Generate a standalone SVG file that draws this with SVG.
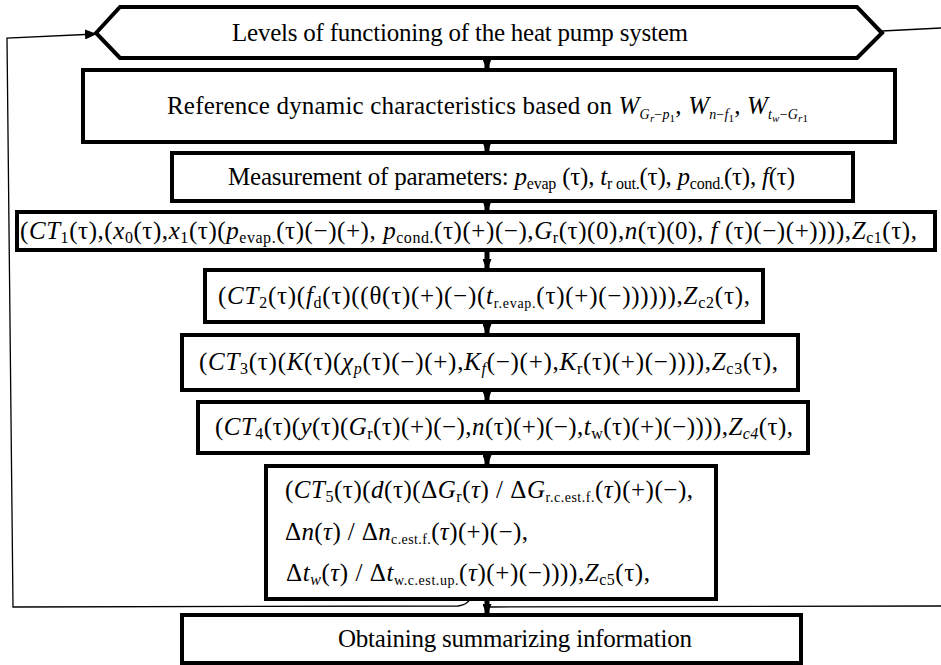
<svg xmlns="http://www.w3.org/2000/svg" width="941" height="665" viewBox="0 0 941 665">
<style>
.box{fill:#fff;stroke:#000;stroke-width:4}
.t{font-family:"Liberation Serif","Times New Roman",serif;font-size:25px;fill:#000}
.i{font-style:italic}
.s{font-size:16px}
.s2{font-size:14px}
.ss{font-size:11px}
.arr{stroke:#000;stroke-width:5;fill:none}
.thin{stroke:#000;stroke-width:1.3;fill:none}
</style>
<defs>
<marker id="ah" markerUnits="userSpaceOnUse" markerWidth="12" markerHeight="9" refX="11" refY="4.5" orient="auto">
<path d="M0,0 L12,4.5 L0,9 z" fill="#000"/>
</marker>
<marker id="ahs" markerUnits="userSpaceOnUse" markerWidth="12" markerHeight="10" refX="11" refY="5" orient="auto">
<path d="M0,0 L12,5 L0,10 z" fill="#000"/>
</marker>
</defs>
<g id="connectors">
<line class="arr" x1="487" y1="58" x2="487" y2="70" marker-end="url(#ah)"/>
<line class="arr" x1="487" y1="142" x2="487" y2="153" marker-end="url(#ah)"/>
<line class="arr" x1="487" y1="201" x2="487" y2="212" marker-end="url(#ah)"/>
<line class="arr" x1="487" y1="250" x2="487" y2="270" marker-end="url(#ah)"/>
<line class="arr" x1="487" y1="322" x2="487" y2="335" marker-end="url(#ah)"/>
<line class="arr" x1="487" y1="390" x2="487" y2="402" marker-end="url(#ah)"/>
<line class="arr" x1="487" y1="453" x2="487" y2="466" marker-end="url(#ah)"/>
<line class="arr" x1="487" y1="599" x2="487" y2="615" marker-end="url(#ah)"/>
<path class="thin" d="M470,599 Q467,605 458,606 L13,607 L7,38 L96,34" marker-end="url(#ahs)"/>
<path class="thin" d="M882,31 L941,28"/>
<path class="thin" d="M490,607 L941,606"/>
</g>
<g id="n-levels">
<polygon class="box" points="96,33 120,7 857,7 882,33 857,58 120,58" stroke-width="3"/>
<text class="t" x="232" y="41" font-size="25.5" textLength="456" lengthAdjust="spacing">Levels of functioning of the heat pump system</text>
</g>
<g id="n-reference">
<rect class="box" x="83" y="70" width="812" height="72"/>
<text class="t" x="167" y="114" font-size="24.5" textLength="641" lengthAdjust="spacing">Reference dynamic characteristics based on <tspan class="i">W</tspan><tspan class="i s2" dy="5">G</tspan><tspan class="i ss" dy="3">r</tspan><tspan class="s2" dy="-3">−</tspan><tspan class="i s2">p</tspan><tspan class="ss" dy="3">1</tspan><tspan dy="-8">, </tspan><tspan class="i">W</tspan><tspan class="i s2" dy="5">n</tspan><tspan class="s2">−</tspan><tspan class="i s2">f</tspan><tspan class="ss" dy="3">1</tspan><tspan dy="-8">, </tspan><tspan class="i">W</tspan><tspan class="i s2" dy="5">t</tspan><tspan class="i ss" dy="3">w</tspan><tspan class="s2" dy="-3">−</tspan><tspan class="i s2">G</tspan><tspan class="i ss" dy="3">r</tspan><tspan class="ss">1</tspan></text>
</g>
<g id="n-measurement">
<rect class="box" x="172" y="153" width="681" height="48"/>
<text class="t" x="228" y="185" font-size="24" textLength="567" lengthAdjust="spacing">Measurement of parameters: <tspan class="i">p</tspan><tspan class="s" dy="4">evap</tspan><tspan dy="-4"> (τ), </tspan><tspan class="i">t</tspan><tspan class="s" dy="4">r out.</tspan><tspan dy="-4">(τ), </tspan><tspan class="i">p</tspan><tspan class="s" dy="4">cond.</tspan><tspan dy="-4">(τ), </tspan><tspan class="i">f</tspan>(τ)</text>
</g>
<g id="n-ct1">
<rect class="box" x="17" y="212" width="918" height="38"/>
<text class="t" x="20" y="239" textLength="897" lengthAdjust="spacing">(<tspan class="i">CT</tspan><tspan class="s" dy="4">1</tspan><tspan dy="-4">(τ),(</tspan><tspan class="i">x</tspan><tspan class="s" dy="4">0</tspan><tspan dy="-4">(τ),</tspan><tspan class="i">x</tspan><tspan class="s" dy="4">1</tspan><tspan dy="-4">(τ)(</tspan><tspan class="i">p</tspan><tspan class="s" dy="4">evap.</tspan><tspan dy="-4">(τ)(−)(+), </tspan><tspan class="i">p</tspan><tspan class="s" dy="4">cond.</tspan><tspan dy="-4">(τ)(+)(−),</tspan><tspan class="i">G</tspan><tspan class="s" dy="4">r</tspan><tspan dy="-4">(τ)(0),</tspan><tspan class="i">n</tspan>(τ)(0), <tspan class="i">f</tspan> (τ)(−)(+)))),<tspan class="i">Z</tspan><tspan class="s" dy="4">c1</tspan><tspan dy="-4">(τ),</tspan></text>
</g>
<g id="n-ct2">
<rect class="box" x="205" y="270" width="558" height="52"/>
<text class="t" x="218" y="304" textLength="532" lengthAdjust="spacing">(<tspan class="i">CT</tspan><tspan class="s" dy="4">2</tspan><tspan dy="-4">(τ)(</tspan><tspan class="i">f</tspan><tspan class="s" dy="4">d</tspan><tspan dy="-4">(τ)((θ(τ)(+)(−)(</tspan><tspan class="i">t</tspan><tspan class="s2" dy="4">r.evap.</tspan><tspan dy="-4">(τ)(+)(−)))))),</tspan><tspan class="i">Z</tspan><tspan class="s" dy="4">c2</tspan><tspan dy="-4">(τ),</tspan></text>
</g>
<g id="n-ct3">
<rect class="box" x="182" y="335" width="616" height="55"/>
<text class="t" x="199" y="370" textLength="579" lengthAdjust="spacing">(<tspan class="i">CT</tspan><tspan class="s" dy="4">3</tspan><tspan dy="-4">(τ)(</tspan><tspan class="i">K</tspan>(τ)(<tspan class="i">χ</tspan><tspan class="i s" dy="4">p</tspan><tspan dy="-4">(τ)(−)(+),</tspan><tspan class="i">K</tspan><tspan class="i s" dy="4">f</tspan><tspan dy="-4">(−)(+),</tspan><tspan class="i">K</tspan><tspan class="s" dy="4">r</tspan><tspan dy="-4">(τ)(+)(−)))),</tspan><tspan class="i">Z</tspan><tspan class="s" dy="4">c3</tspan><tspan dy="-4">(τ),</tspan></text>
</g>
<g id="n-ct4">
<rect class="box" x="198" y="402" width="610" height="51"/>
<text class="t" x="215" y="435" textLength="578" lengthAdjust="spacing">(<tspan class="i">CT</tspan><tspan class="s" dy="4">4</tspan><tspan dy="-4">(τ)(</tspan><tspan class="i">y</tspan>(τ)(<tspan class="i">G</tspan><tspan class="s" dy="4">r</tspan><tspan dy="-4">(τ)(+)(−),</tspan><tspan class="i">n</tspan>(τ)(+)(−),<tspan class="i">t</tspan><tspan class="s" dy="4">w</tspan><tspan dy="-4">(τ)(+)(−)))),</tspan><tspan class="i">Z</tspan><tspan class="i s" dy="4">c4</tspan><tspan dy="-4">(τ),</tspan></text>
</g>
<g id="n-ct5">
<rect class="box" x="266" y="466" width="450" height="133"/>
<text class="t" x="285" y="498" textLength="408" lengthAdjust="spacing">(<tspan class="i">CT</tspan><tspan class="s" dy="4">5</tspan><tspan dy="-4">(τ)(</tspan><tspan class="i">d</tspan>(τ)(Δ<tspan class="i">G</tspan><tspan class="s" dy="4">r</tspan><tspan dy="-4">(</tspan><tspan class="i">τ</tspan>) / Δ<tspan class="i">G</tspan><tspan class="s2" dy="4">r.c.est.f.</tspan><tspan dy="-4">(</tspan><tspan class="i">τ</tspan>)(+)(−),</text>
<text class="t" x="285" y="540" textLength="243" lengthAdjust="spacing">Δ<tspan class="i">n</tspan>(<tspan class="i">τ</tspan>) / Δ<tspan class="i">n</tspan><tspan class="s2" dy="4">c.est.f.</tspan><tspan dy="-4">(</tspan><tspan class="i">τ</tspan>)(+)(−),</text>
<text class="t" x="286" y="581" textLength="364" lengthAdjust="spacing">Δ<tspan class="i">t</tspan><tspan class="i s" dy="4">w</tspan><tspan dy="-4">(</tspan><tspan class="i">τ</tspan>) / Δ<tspan class="i">t</tspan><tspan class="s2" dy="4">w.c.est.up.</tspan><tspan dy="-4">(</tspan><tspan class="i">τ</tspan>)(+)(−)))),<tspan class="i">Z</tspan><tspan class="s" dy="4">c5</tspan><tspan dy="-4">(τ),</tspan></text>
</g>
<g id="n-summary">
<rect class="box" x="182" y="615" width="619" height="48"/>
<text class="t" x="338" y="647" font-size="24.5" textLength="354" lengthAdjust="spacing">Obtaining summarizing information</text>
</g>
</svg>
